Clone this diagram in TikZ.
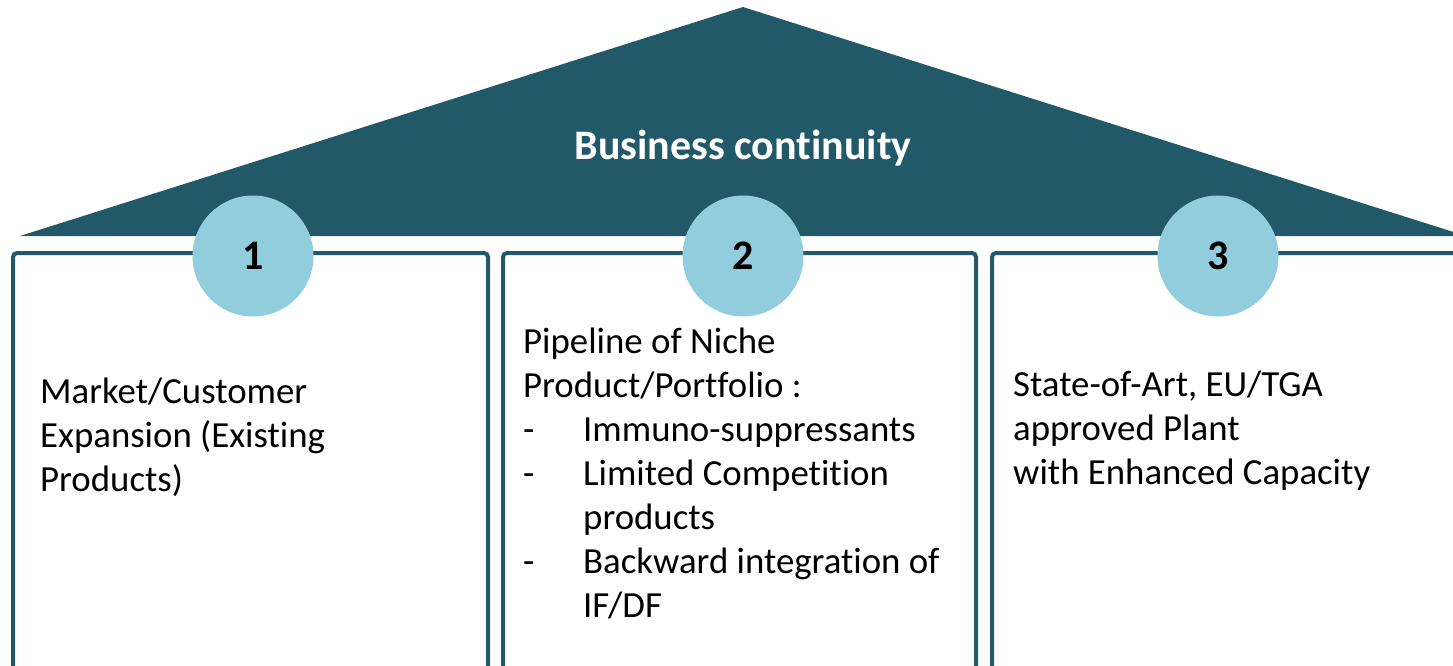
\documentclass[tikz,border=0pt]{standalone}
\usepackage{fontspec}
\setmainfont{Carlito}[RawFeature=-liga]
\definecolor{housedark}{HTML}{215968}
\definecolor{circlelight}{HTML}{92CDDD}
\begin{document}
\begin{tikzpicture}[x=1pt,y=-1pt,
  roof/.style={fill=housedark, draw=none},
  pillar/.style={draw=housedark, line width=4pt, rounded corners=4pt},
  numcircle/.style={circle, fill=circlelight, draw=none, minimum size=121pt, inner sep=0pt,
     font=\fontsize{42}{50}\selectfont\bfseries, text=black},
  title/.style={font=\fontsize{42}{50}\selectfont\bfseries, text=white, inner sep=0pt},
  body/.style={font=\fontsize{36.8}{44}\selectfont, align=left, inner sep=0pt, anchor=north west, text=black}
]
\useasboundingbox (0,0) rectangle (1453,666);
\clip (0,0) rectangle (1453,666);
% roof
\fill[roof] (20,236) -- (743,7) -- (1466,236) -- cycle;
\node[title, anchor=base] (roofttl) at (743,160) {Business continuity};
% pillars
\draw[pillar] (13,253) rectangle (488,720);
\draw[pillar] (503,253) rectangle (976,720);
\draw[pillar] (992,253) rectangle (1480,720);
% circles
\node[numcircle] (c1) at (253,256) {1};
\node[numcircle] (c2) at (743,256) {2};
\node[numcircle] (c3) at (1218,256) {3};
% texts
\node[body] (t1) at (40,373) {\rule{0pt}{30pt}Market/Customer\\Expansion (Existing\\Products)};
\node[body] (t2) at (523,323) {\rule{0pt}{30pt}Pipeline of Niche\\Product/Portfolio :\\
  \makebox[60pt][l]{-}Immuno-suppressants\\
  \makebox[60pt][l]{-}Limited Competition\\
  \hspace*{60pt}products\\
  \makebox[60pt][l]{-}Backward integration of\\
  \hspace*{60pt}IF/DF};
\node[body] (t3) at (1013,366) {\rule{0pt}{30pt}State-of-Art, EU/TGA\\approved Plant\\with Enhanced Capacity};
\end{tikzpicture}
\end{document}
